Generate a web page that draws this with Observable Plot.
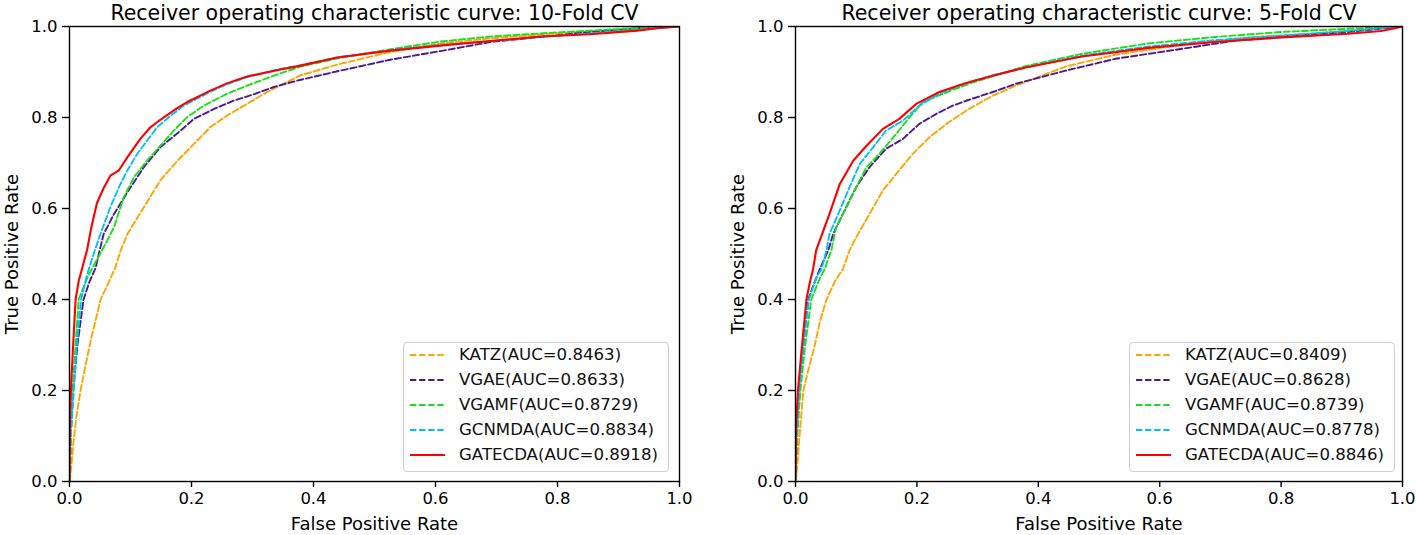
<!DOCTYPE html>
<html><head><meta charset="utf-8">
<script src="https://cdn.jsdelivr.net/npm/d3@7"></script>
<script src="https://cdn.jsdelivr.net/npm/@observablehq/plot@0.6"></script>
<style>
body{margin:0;background:#fff;}
#wrap{position:relative;width:1416px;height:535px;font-family:"DejaVu Sans",sans-serif;overflow:hidden;}
.panel{position:absolute;top:0;}
.legend{position:absolute;border:1px solid #d0d0d0;border-radius:4px;background:rgba(255,255,255,0.85);box-sizing:border-box;}
.legend .row{position:absolute;left:0;height:18px;}
.legend .row svg{position:absolute;top:0;}
.legend .row span{position:absolute;top:0;line-height:18px;font-size:16.6px;color:#111;white-space:nowrap;font-family:"DejaVu Sans",sans-serif;}
</style>
</head><body>
<div id="wrap"></div>
<script>
// ---- data (false positive rate, true positive rate) ----
const methods = ["KATZ", "VGAE", "VGAMF", "GCNMDA", "GATECDA"];
const colors = ["#ffa500", "#4b1a8f", "#18e018", "#00bfff", "#ff0000"];
const dashed = [true, true, true, true, false];
const auc10 = ["0.8463", "0.8633", "0.8729", "0.8834", "0.8918"];
const auc5 = ["0.8409", "0.8628", "0.8739", "0.8778", "0.8846"];
const titles = ["Receiver operating characteristic curve: 10-Fold CV", "Receiver operating characteristic curve: 5-Fold CV"];
const ticks = [0, 0.2, 0.4, 0.6, 0.8, 1.0];

const katz10 = [[0,0],[0.002,0.02],[0.006,0.08],[0.011,0.14],[0.018,0.2],[0.027,0.26],[0.036,0.317],[0.051,0.4],[0.065,0.44],[0.075,0.47],[0.084,0.508],[0.095,0.544],[0.122,0.603],[0.149,0.662],[0.177,0.705],[0.204,0.742],[0.231,0.779],[0.258,0.804],[0.291,0.83],[0.324,0.856],[0.357,0.878],[0.379,0.893],[0.444,0.918],[0.526,0.944],[0.608,0.963],[0.69,0.974],[0.80,0.985],[0.908,0.993],[1,1]];
const vgae10 = [[0,0],[0.002,0.1],[0.006,0.2],[0.013,0.3],[0.023,0.4],[0.033,0.44],[0.043,0.47],[0.048,0.5],[0.056,0.544],[0.073,0.588],[0.095,0.636],[0.122,0.691],[0.149,0.735],[0.182,0.771],[0.204,0.797],[0.237,0.819],[0.269,0.837],[0.302,0.851],[0.335,0.867],[0.373,0.881],[0.444,0.903],[0.526,0.927],[0.608,0.946],[0.69,0.966],[0.772,0.977],[0.854,0.988],[0.94,0.997],[1,1]];
const vgamf10 = [[0,0],[0.002,0.08],[0.005,0.2],[0.010,0.3],[0.015,0.4],[0.030,0.45],[0.050,0.50],[0.062,0.53],[0.073,0.559],[0.089,0.625],[0.106,0.669],[0.127,0.705],[0.149,0.738],[0.171,0.771],[0.193,0.801],[0.22,0.826],[0.258,0.852],[0.291,0.87],[0.335,0.892],[0.379,0.912],[0.44,0.93],[0.526,0.95],[0.608,0.967],[0.69,0.978],[0.80,0.987],[0.908,0.995],[1,1]];
const gcnmda10 = [[0,0],[0.002,0.1],[0.007,0.2],[0.012,0.3],[0.019,0.4],[0.028,0.45],[0.037,0.49],[0.051,0.545],[0.067,0.603],[0.081,0.647],[0.095,0.684],[0.111,0.72],[0.127,0.749],[0.144,0.779],[0.166,0.804],[0.187,0.826],[0.231,0.857],[0.258,0.873],[0.291,0.889],[0.34,0.905],[0.379,0.915],[0.439,0.932],[0.526,0.948],[0.608,0.96],[0.69,0.968],[0.772,0.977],[0.854,0.985],[0.931,0.993],[1,1]];
const gatecda10 = [[0,0],[0.001,0.15],[0.003,0.22],[0.006,0.3],[0.010,0.4],[0.015,0.44],[0.021,0.47],[0.029,0.51],[0.036,0.56],[0.045,0.612],[0.056,0.645],[0.067,0.672],[0.081,0.684],[0.095,0.713],[0.116,0.753],[0.133,0.779],[0.149,0.795],[0.177,0.821],[0.193,0.834],[0.231,0.859],[0.258,0.875],[0.291,0.89],[0.34,0.904],[0.379,0.914],[0.439,0.932],[0.526,0.947],[0.608,0.958],[0.69,0.968],[0.772,0.978],[0.854,0.983],[0.931,0.991],[0.963,0.996],[1,1]];

const katz5 = [[0,0],[0.002,0.02],[0.006,0.09],[0.013,0.2],[0.022,0.25],[0.031,0.295],[0.04,0.35],[0.051,0.4],[0.065,0.44],[0.078,0.467],[0.089,0.508],[0.1,0.537],[0.122,0.588],[0.144,0.64],[0.166,0.676],[0.193,0.72],[0.221,0.757],[0.253,0.79],[0.286,0.819],[0.325,0.848],[0.363,0.87],[0.445,0.912],[0.527,0.938],[0.637,0.96],[0.746,0.976],[0.855,0.985],[1,1]];
const vgae5 = [[0,0],[0.002,0.1],[0.006,0.2],[0.013,0.3],[0.021,0.4],[0.032,0.44],[0.040,0.467],[0.054,0.508],[0.062,0.544],[0.078,0.588],[0.1,0.647],[0.122,0.691],[0.149,0.731],[0.177,0.753],[0.204,0.786],[0.232,0.808],[0.259,0.826],[0.286,0.839],[0.325,0.856],[0.363,0.874],[0.445,0.903],[0.527,0.929],[0.637,0.951],[0.719,0.968],[0.801,0.978],[0.91,0.988],[1,1]];
const vgamf5 = [[0,0],[0.002,0.08],[0.008,0.2],[0.016,0.3],[0.026,0.4],[0.038,0.44],[0.048,0.467],[0.059,0.508],[0.067,0.559],[0.084,0.603],[0.1,0.647],[0.117,0.691],[0.138,0.72],[0.166,0.764],[0.188,0.801],[0.21,0.834],[0.25,0.856],[0.29,0.876],[0.335,0.895],[0.379,0.913],[0.472,0.94],[0.582,0.963],[0.691,0.977],[0.801,0.988],[0.91,0.995],[1,1]];
const gcnmda5 = [[0,0],[0.002,0.1],[0.006,0.2],[0.013,0.3],[0.022,0.4],[0.035,0.45],[0.043,0.467],[0.051,0.508],[0.056,0.544],[0.073,0.596],[0.089,0.647],[0.106,0.698],[0.128,0.735],[0.149,0.771],[0.177,0.793],[0.204,0.826],[0.237,0.853],[0.281,0.875],[0.325,0.893],[0.379,0.91],[0.472,0.936],[0.582,0.956],[0.691,0.97],[0.801,0.98],[0.91,0.99],[1,1]];
const gatecda5 = [[0,0],[0.001,0.12],[0.004,0.2],[0.010,0.288],[0.018,0.4],[0.024,0.44],[0.029,0.467],[0.034,0.508],[0.040,0.53],[0.056,0.588],[0.073,0.654],[0.095,0.705],[0.117,0.738],[0.144,0.775],[0.171,0.797],[0.199,0.83],[0.237,0.856],[0.281,0.876],[0.325,0.892],[0.379,0.91],[0.472,0.934],[0.582,0.953],[0.691,0.966],[0.801,0.976],[0.91,0.984],[0.965,0.99],[1,1]];

const curves10 = [katz10, vgae10, vgamf10, gcnmda10, gatecda10];
const curves5 = [katz5, vgae5, vgamf5, gcnmda5, gatecda5];

// ---- drawing ----
const wrap = document.getElementById("wrap");
const fmt = d3.format(".1f");

function panel(title, curves, ml, mr) {
  const lines = curves.map((c, i) => Plot.line(c, {
    x: d => d[0], y: d => d[1], stroke: colors[i],
    strokeWidth: dashed[i] ? 1.9 : 2.1,
    strokeDasharray: dashed[i] ? "6.3,2.8" : null,
    clip: true
  }));
  return Plot.plot({
    width: 708, height: 535,
    marginLeft: ml, marginRight: mr, marginTop: 26, marginBottom: 54,
    style: {fontFamily: "DejaVu Sans", fontSize: "16.5px", color: "#000", background: "transparent", overflow: "visible"},
    x: {domain: [0, 1]},
    y: {domain: [0, 1]},
    marks: [
      ...lines,
      Plot.frame({stroke: "#000", strokeWidth: 1.4}),
      Plot.axisX({ticks, tickFormat: fmt, tickSize: 6, tickPadding: 5, label: null, fontSize: 16.5, strokeWidth: 1.4}),
      Plot.axisY({ticks, tickFormat: fmt, tickSize: 7, tickPadding: 5, label: null, fontSize: 16.5, strokeWidth: 1.4}),
      Plot.text([title], {text: d => d, frameAnchor: "top", lineAnchor: "middle", textAnchor: "middle", dy: -12.6, fontSize: 20.5, fill: "#000"}),
      Plot.text(["False Positive Rate"], {text: d => d, frameAnchor: "bottom", lineAnchor: "middle", textAnchor: "middle", dy: 43.2, fontSize: 18, fill: "#000"}),
      Plot.text(["True Positive Rate"], {text: d => d, frameAnchor: "left", lineAnchor: "middle", textAnchor: "middle", dx: -56.8, rotate: -90, fontSize: 18, fill: "#000"})
    ]
  });
}

function legend(left, top, aucs) {
  const box = document.createElement("div");
  box.className = "legend";
  box.style.left = left + "px";
  box.style.top = top + "px";
  box.style.width = "266px";
  box.style.height = "130px";
  methods.forEach((m, i) => {
    const row = document.createElement("div");
    row.className = "row";
    row.style.top = (13 + 25 * i - 9 - 1) + "px";
    row.style.width = "264px";
    const ns = "http://www.w3.org/2000/svg";
    const svg = document.createElementNS(ns, "svg");
    svg.setAttribute("width", "50"); svg.setAttribute("height", "18");
    const ln = document.createElementNS(ns, "line");
    ln.setAttribute("x1", 6); ln.setAttribute("x2", 41);
    ln.setAttribute("y1", 9); ln.setAttribute("y2", 9);
    ln.setAttribute("stroke", colors[i]);
    ln.setAttribute("stroke-width", dashed[i] ? 1.9 : 2.1);
    if (dashed[i]) ln.setAttribute("stroke-dasharray", "6.3,2.8");
    svg.appendChild(ln);
    row.appendChild(svg);
    const sp = document.createElement("span");
    sp.style.left = "55px";
    sp.textContent = m + "(AUC=" + aucs[i] + ")";
    row.appendChild(sp);
    box.appendChild(row);
  });
  return box;
}

const p1 = panel(titles[0], curves10, 69, 29);
p1.classList.add("panel"); p1.style.left = "0px";
const p2 = panel(titles[1], curves5, 87, 14);
p2.classList.add("panel"); p2.style.left = "708px";
wrap.appendChild(p1);
wrap.appendChild(p2);
wrap.appendChild(legend(403, 342, auc10));
wrap.appendChild(legend(1129, 342, auc5));
</script>
</body></html>
